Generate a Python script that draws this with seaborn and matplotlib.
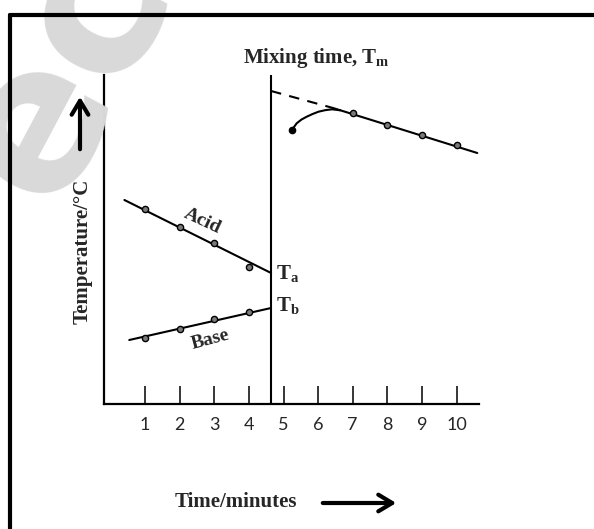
import matplotlib
matplotlib.use("Agg")
import matplotlib.pyplot as plt
import matplotlib.patches as mpatches
import seaborn as sns
import pandas as pd
from matplotlib.lines import Line2D

# ---------------- data ----------------
tick_minutes = [1, 2, 3, 4, 5, 6, 7, 8, 9, 10]
tick_labels = ["1", "2", "3", "4", "5", "6", "7", "8", "9", "10"]

mix_time = 4.64

acid_t = [1, 2, 3, 4]
acid_T = [39.5, 37.7, 36.1, 33.7]
acid_fit_t = [0.40, 4.64]
acid_fit_T = [40.4, 33.1]

base_t = [1, 2, 3, 4]
base_T = [26.6, 27.5, 28.5, 29.2]
base_fit_t = [0.54, 4.64]
base_fit_T = [26.4, 29.6]

mixed_t = [7, 8, 9, 10]
mixed_T = [49.1, 47.9, 46.9, 45.9]
mixed_fit_t = [6.43, 10.6]
mixed_fit_T = [49.6, 45.1]

extrap_t = [4.64, 6.43]
extrap_T = [51.3, 49.6]

curve_t = [5.24, 5.38, 5.52, 5.67, 5.84, 6.01, 6.20, 6.40, 6.64]
curve_T = [47.4, 48.07, 48.45, 48.73, 49.0, 49.23, 49.38, 49.47, 49.37]

# ---------------- style ----------------
sns.set_theme(style="white")
plt.rcParams["font.family"] = ["Liberation Serif", "DejaVu Serif"]
plt.rcParams["mathtext.fontset"] = "custom"
plt.rcParams["mathtext.rm"] = "Liberation Serif:bold"
plt.rcParams["mathtext.bf"] = "Liberation Serif:bold"
plt.rcParams["mathtext.it"] = "Liberation Serif:bold"

W, H = 594, 529
fig = plt.figure(figsize=(W / 100, H / 100), dpi=100)
fig.patch.set_facecolor("white")


def fx(px):
    return px / W


def fy(py):
    return 1 - py / H


# watermark
fig.text(fx(64), fy(72), "ec", rotation=62, fontsize=145, color="#d9d9d9",
         fontweight="bold", family="DejaVu Sans", ha="center", va="center", zorder=0)

ax = fig.add_axes([fx(104), fy(404), fx(479) - fx(104), fy(75) - fy(404)])
ax.patch.set_alpha(0)
ax.set_xlim(-0.19, 10.65)
ax.set_ylim(20, 52.9)

lw = 1.5
sns.lineplot(x=acid_fit_t, y=acid_fit_T, ax=ax, color="black", lw=lw)
sns.lineplot(x=base_fit_t, y=base_fit_T, ax=ax, color="black", lw=lw)
sns.lineplot(x=mixed_fit_t, y=mixed_fit_T, ax=ax, color="black", lw=lw)
ax.plot(extrap_t, extrap_T, color="black", lw=lw, dashes=(5, 4))
ax.plot(curve_t, curve_T, color="black", lw=lw)
ax.plot(curve_t[:1], curve_T[:1], marker="o", ms=4.5, color="black")

pts = pd.DataFrame({
    "t": acid_t + base_t + mixed_t,
    "T": acid_T + base_T + mixed_T,
})
sns.scatterplot(data=pts, x="t", y="T", ax=ax, s=20, color="#7a7a7a",
                edgecolor="black", linewidth=1, zorder=5)

ax.axvline(mix_time, color="black", lw=1.5)

for s in ["top", "right"]:
    ax.spines[s].set_visible(False)
for s in ["left", "bottom"]:
    ax.spines[s].set_color("black")
    ax.spines[s].set_linewidth(1.6)

ax.set_xticks(tick_minutes)
ax.set_xticklabels(tick_labels, fontsize=13, family="Lato")
ax.set_yticks([])
ax.tick_params(axis="x", direction="in", length=13, width=1.1, color="black",
               pad=9, bottom=True)
ax.set_xlabel("")
ax.set_ylabel("")

# text annotations
fig.text(fx(243), fy(58), r"Mixing time, T$_{\mathbf{m}}$", fontsize=15,
         fontweight="bold", ha="left", va="center")
fig.text(fx(83), fy(251), "Temperature/°C", fontsize=15, fontweight="bold",
         rotation=90, ha="center", va="center")
fig.text(fx(175), fy(502), "Time/minutes", fontsize=15, fontweight="bold",
         ha="left", va="center")
ax.text(2.65, 38.3, "Acid", fontsize=14, fontweight="bold", rotation=-25,
        ha="center", va="center")
ax.text(2.88, 26.4, "Base", fontsize=14, fontweight="bold", rotation=15,
        ha="center", va="center")
ax.text(mix_time + 0.15, 33.0, r"T$_{\mathbf{a}}$", fontsize=15,
        fontweight="bold", ha="left", va="center")
ax.text(mix_time + 0.15, 29.8, r"T$_{\mathbf{b}}$", fontsize=15,
        fontweight="bold", ha="left", va="center")

# arrows
fig.add_artist(mpatches.FancyArrowPatch(
    (fx(80), fy(152)), (fx(80), fy(94)), transform=fig.transFigure,
    arrowstyle="->,head_length=0.5,head_width=0.3", mutation_scale=20,
    lw=3, color="black"))
fig.add_artist(mpatches.FancyArrowPatch(
    (fx(320), fy(503)), (fx(399), fy(503)), transform=fig.transFigure,
    arrowstyle="->,head_length=0.5,head_width=0.3", mutation_scale=20,
    lw=3, color="black"))

# outer frame (top and left edges)
fig.add_artist(Line2D([fx(10), fx(594)], [fy(15), fy(15)], color="black", lw=3,
                      transform=fig.transFigure, zorder=10))
fig.add_artist(Line2D([fx(10), fx(10)], [fy(15), fy(529)], color="black", lw=3,
                      transform=fig.transFigure, zorder=10))

fig.savefig("out.png", dpi=100)
